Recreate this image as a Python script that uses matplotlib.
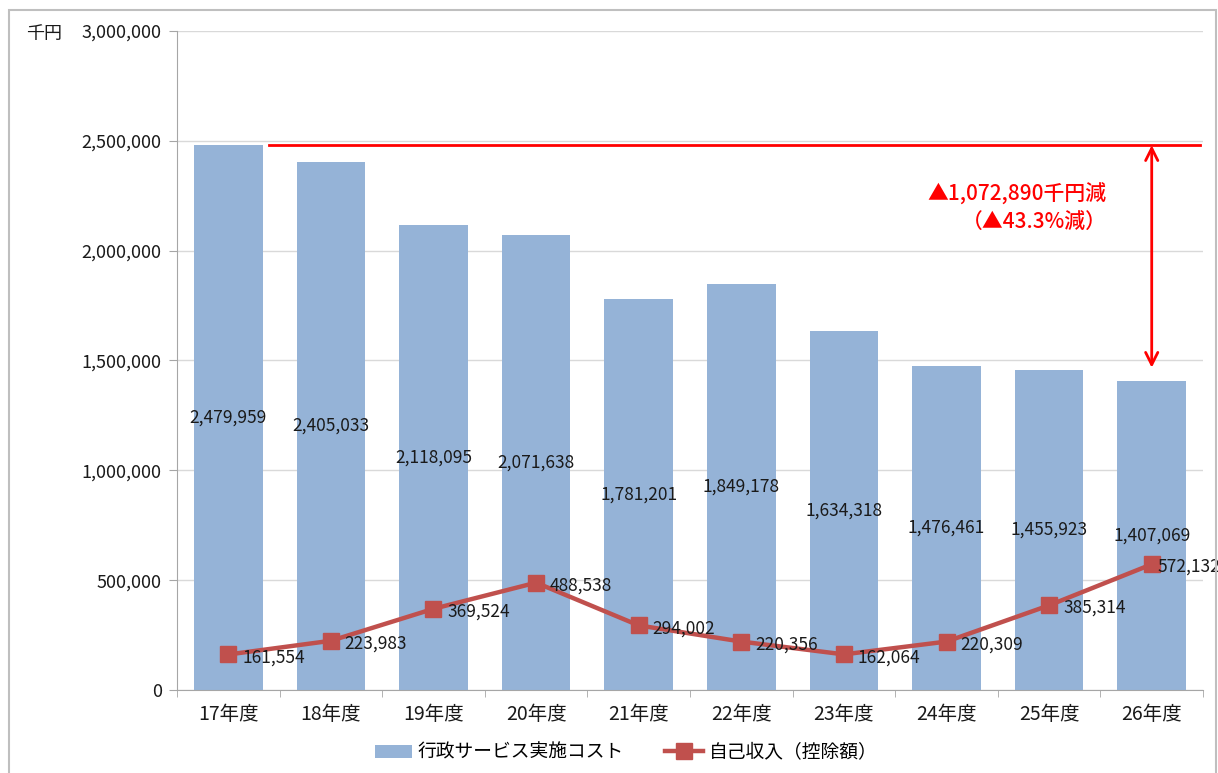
import matplotlib
matplotlib.use('Agg')
import matplotlib.pyplot as plt
from matplotlib.patches import Rectangle

plt.rcParams['font.family'] = ['Noto Sans CJK JP', 'DejaVu Sans']

# データ（千円）
years = ['17年度', '18年度', '19年度', '20年度', '21年度',
         '22年度', '23年度', '24年度', '25年度', '26年度']
cost = [2479959, 2405033, 2118095, 2071638, 1781201,
        1849178, 1634318, 1476461, 1455923, 1407069]
income = [161554, 223983, 369524, 488538, 294002,
          220356, 162064, 220309, 385314, 572132]
yticks = [0, 500000, 1000000, 1500000, 2000000, 2500000, 3000000]
diff_label = '▲1,072,890千円減'
pct_label = '（▲43.3%減）'

bar_color = '#95B3D7'
line_color = '#C0504D'
grid_color = '#D9D9D9'
text_color = '#1A1A1A'

fig = plt.figure(figsize=(12.18, 7.73), dpi=100)
ax = fig.add_axes([0.1453, 0.1074, 0.8424, 0.8525])

x = list(range(len(years)))
ax.bar(x, cost, width=0.67, color=bar_color, zorder=2,
       label='行政サービス実施コスト')
ax.plot(x, income, color=line_color, lw=3.2, marker='s', markersize=11,
        zorder=3, label='自己収入（控除額）')

# 棒グラフの値ラベル（棒の中央）
for xi, v in zip(x, cost):
    ax.text(xi, v / 2, f'{v:,}', ha='center', va='center', fontsize=12.5,
            color=text_color, zorder=4)
# 折れ線の値ラベル（マーカーの右）
for i, (xi, v) in enumerate(zip(x, income)):
    dx = 4 if i == len(income) - 1 else 10
    ax.annotate(f'{v:,}', (xi, v), xytext=(dx, -2), textcoords='offset points',
                ha='left', va='center', fontsize=12.5, color=text_color, zorder=4)

ax.set_xlim(-0.5, len(years) - 0.5)
ax.set_ylim(0, 3000000)
ax.set_yticks(yticks)
ax.set_yticklabels([f'{t:,}' for t in yticks], fontsize=13, color=text_color)
ax.set_xticks(x)
ax.set_xticklabels(years, fontsize=14, color=text_color)
ax.set_xticks([i - 0.5 for i in range(len(years) + 1)], minor=True)
ax.tick_params(axis='x', which='major', length=0, pad=10)
ax.tick_params(axis='x', which='minor', length=5, color='#A6A6A6')
ax.tick_params(axis='y', length=6, color='#A6A6A6', pad=5)
ax.yaxis.grid(True, color=grid_color, lw=1, zorder=0)
ax.set_axisbelow(True)
for s in ['top', 'right']:
    ax.spines[s].set_visible(False)
for s in ['left', 'bottom']:
    ax.spines[s].set_color('#A6A6A6')

# 減少幅の表示
ax.plot([0.4, 9.47], [cost[0], cost[0]], color='red', lw=2, zorder=3)
ax.annotate('', xy=(9, cost[-1] + 60000), xytext=(9, cost[0]),
            arrowprops=dict(arrowstyle='<->', color='red', lw=2,
                            mutation_scale=22, shrinkA=0, shrinkB=0))
ax.text(8.56, 2255000, diff_label, ha='right', va='center',
        fontsize=15, color='red', fontweight='medium')
ax.text(8.56, 2125000, pct_label, ha='right', va='center',
        fontsize=15, color='red', fontweight='medium')

fig.text(0.036, 0.956, '千円', ha='center', va='center', fontsize=13,
         color=text_color)

handles, labels = ax.get_legend_handles_labels()
order = [labels.index('行政サービス実施コスト'), labels.index('自己収入（控除額）')]
fig.legend([handles[i] for i in order], [labels[i] for i in order],
           loc='center', bbox_to_anchor=(0.514, 0.027), ncol=2,
           frameon=False, fontsize=13.5, handlelength=2.0, handletextpad=0.3,
           columnspacing=2.2)

fig.patches.append(Rectangle((0.0074, -0.01), 0.991, 0.997,
                             transform=fig.transFigure, fill=False,
                             edgecolor='#BFBFBF', lw=1.5))

fig.savefig('out.png', dpi=100)
